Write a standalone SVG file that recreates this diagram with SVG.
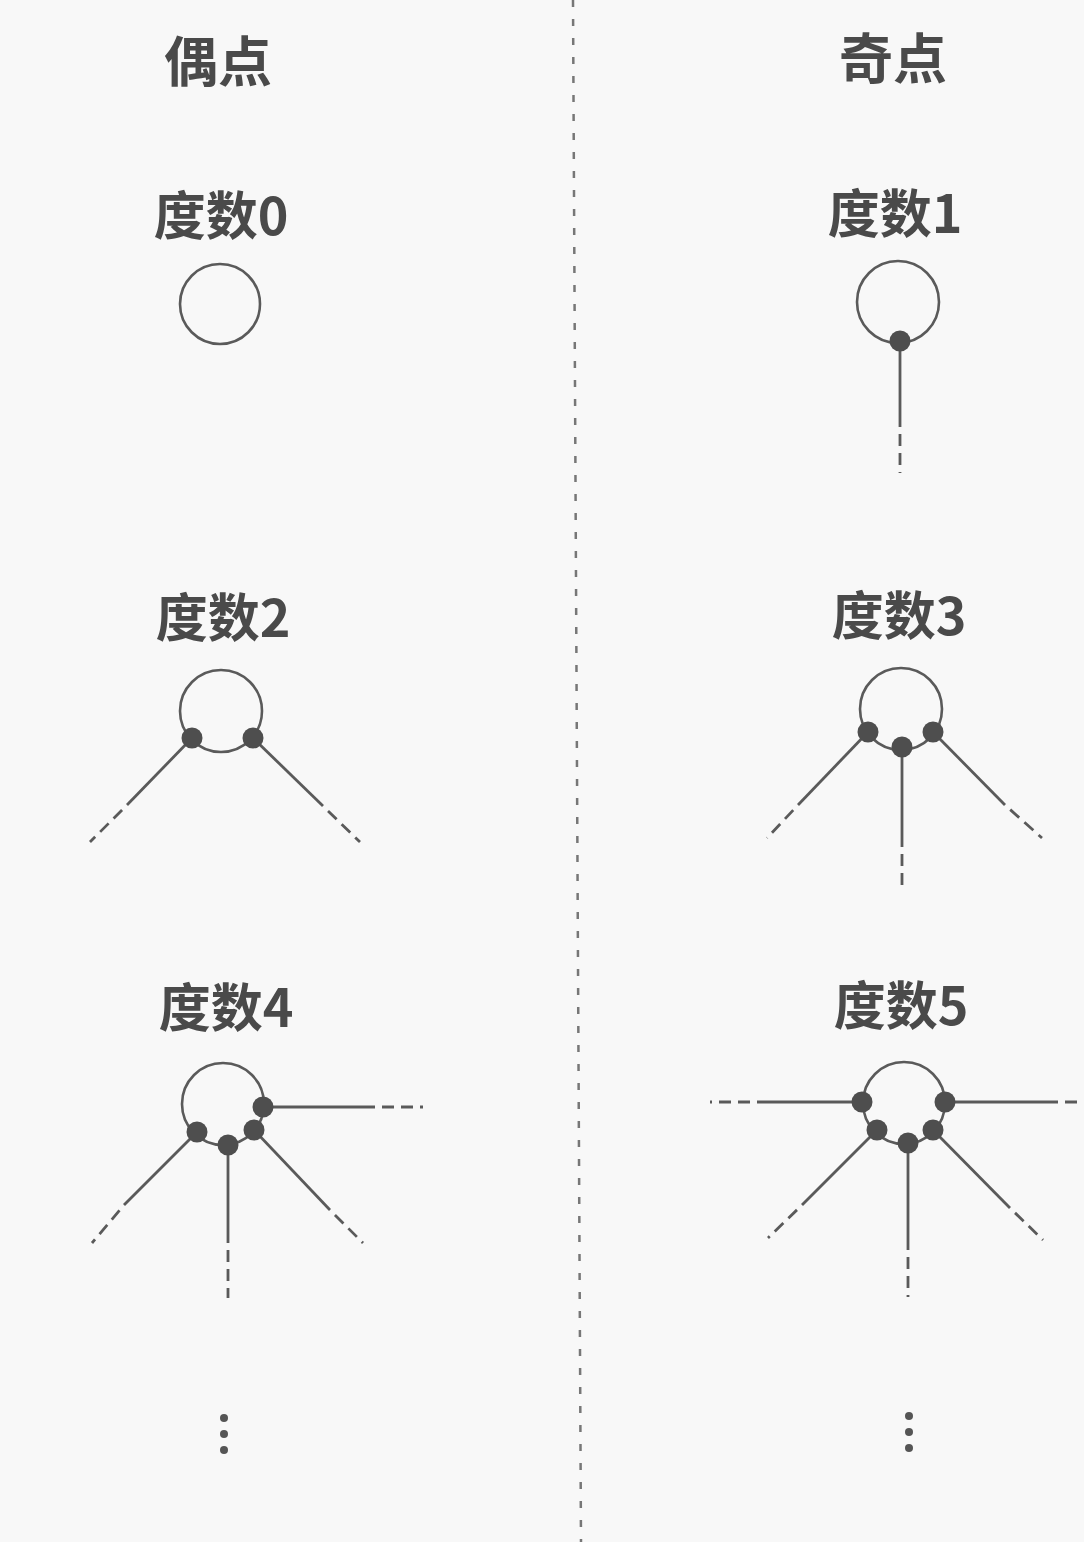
<svg xmlns="http://www.w3.org/2000/svg" width="1084" height="1542" viewBox="0 0 1084 1542">
<style>
.bg{fill:#f8f8f8}
.t{font-family:"Noto Sans CJK SC","Noto Sans",sans-serif;font-weight:bold;fill:#4a4a4a;text-anchor:middle}
.h{font-size:54px}
.l{font-size:52px}
.ring{fill:none;stroke:#5a5a5a;stroke-width:2.6}
.dot{fill:#4e4e4e}
.s{stroke:#5a5a5a;stroke-width:2.8;fill:none}
.tail{stroke:#5a5a5a;stroke-width:2.8;fill:none;stroke-dasharray:12 7;stroke-dashoffset:12}
.sep{stroke:#777;stroke-width:2.5;stroke-dasharray:7 12}
.el{fill:#555}
</style>
<rect class="bg" x="0" y="0" width="1084" height="1542"/>
<g id="separator"><line class="sep" x1="573" y1="0" x2="581" y2="1542"/></g>
<g id="headers">
<text class="t h" x="218" y="82">偶点</text>
<text class="t h" x="893" y="79">奇点</text>
</g>
<g id="connectors">
<line class="s" x1="900" y1="341" x2="900" y2="427"/>
<line class="tail" x1="900" y1="427" x2="900" y2="473"/>
<line class="s" x1="192" y1="738" x2="127" y2="805"/>
<line class="tail" x1="127" y1="805" x2="90" y2="842"/>
<line class="s" x1="253" y1="738" x2="323" y2="806"/>
<line class="tail" x1="323" y1="806" x2="360" y2="842"/>
<line class="s" x1="868" y1="732" x2="798" y2="805"/>
<line class="tail" x1="798" y1="805" x2="767" y2="838"/>
<line class="s" x1="902" y1="747" x2="902" y2="847"/>
<line class="tail" x1="902" y1="847" x2="902" y2="890"/>
<line class="s" x1="933" y1="732" x2="1005" y2="805"/>
<line class="tail" x1="1005" y1="805" x2="1042" y2="838"/>
<line class="s" x1="263" y1="1107" x2="375" y2="1107"/>
<line class="tail" x1="375" y1="1107" x2="423" y2="1107"/>
<line class="s" x1="197" y1="1132" x2="124" y2="1205"/>
<line class="tail" x1="124" y1="1205" x2="92" y2="1243"/>
<line class="s" x1="228" y1="1145" x2="228" y2="1243"/>
<line class="tail" x1="228" y1="1243" x2="228" y2="1298"/>
<line class="s" x1="254" y1="1130" x2="330" y2="1210"/>
<line class="tail" x1="330" y1="1210" x2="363" y2="1243"/>
<line class="s" x1="862" y1="1102" x2="757" y2="1102"/>
<line class="tail" x1="757" y1="1102" x2="710" y2="1102"/>
<line class="s" x1="945" y1="1102" x2="1058" y2="1102"/>
<line class="tail" x1="1058" y1="1102" x2="1090" y2="1102"/>
<line class="s" x1="877" y1="1130" x2="802" y2="1205"/>
<line class="tail" x1="802" y1="1205" x2="768" y2="1238"/>
<line class="s" x1="908" y1="1143" x2="908" y2="1250"/>
<line class="tail" x1="908" y1="1250" x2="908" y2="1297"/>
<line class="s" x1="933" y1="1130" x2="1010" y2="1208"/>
<line class="tail" x1="1010" y1="1208" x2="1043" y2="1240"/>
</g>
<g id="deg0">
<text class="t l" x="221" y="235">度数0</text>
<circle class="ring" cx="220" cy="304" r="40"/>
</g>
<g id="deg1">
<text class="t l" x="895" y="233">度数1</text>
<circle class="ring" cx="898" cy="302" r="41"/>
<circle class="dot" cx="900" cy="341" r="10.5"/>
</g>
<g id="deg2">
<text class="t l" x="223" y="637">度数2</text>
<circle class="ring" cx="221" cy="711" r="41"/>
<circle class="dot" cx="192" cy="738" r="10.5"/>
<circle class="dot" cx="253" cy="738" r="10.5"/>
</g>
<g id="deg3">
<text class="t l" x="899" y="635">度数3</text>
<circle class="ring" cx="901" cy="709" r="41"/>
<circle class="dot" cx="868" cy="732" r="10.5"/>
<circle class="dot" cx="902" cy="747" r="10.5"/>
<circle class="dot" cx="933" cy="732" r="10.5"/>
</g>
<g id="deg4">
<text class="t l" x="226" y="1027">度数4</text>
<circle class="ring" cx="223" cy="1104" r="41"/>
<circle class="dot" cx="197" cy="1132" r="10.5"/>
<circle class="dot" cx="228" cy="1145" r="10.5"/>
<circle class="dot" cx="254" cy="1130" r="10.5"/>
<circle class="dot" cx="263" cy="1107" r="10.5"/>
</g>
<g id="deg5">
<text class="t l" x="901" y="1025">度数5</text>
<circle class="ring" cx="904" cy="1103" r="41"/>
<circle class="dot" cx="862" cy="1102" r="10.5"/>
<circle class="dot" cx="945" cy="1102" r="10.5"/>
<circle class="dot" cx="877" cy="1130" r="10.5"/>
<circle class="dot" cx="908" cy="1143" r="10.5"/>
<circle class="dot" cx="933" cy="1130" r="10.5"/>
</g>
<g id="ellipsis-left">
<circle class="el" cx="224" cy="1418" r="4"/>
<circle class="el" cx="224" cy="1434" r="4"/>
<circle class="el" cx="224" cy="1450" r="4"/>
</g>
<g id="ellipsis-right">
<circle class="el" cx="909" cy="1416" r="4"/>
<circle class="el" cx="909" cy="1432" r="4"/>
<circle class="el" cx="909" cy="1448" r="4"/>
</g>
</svg>
